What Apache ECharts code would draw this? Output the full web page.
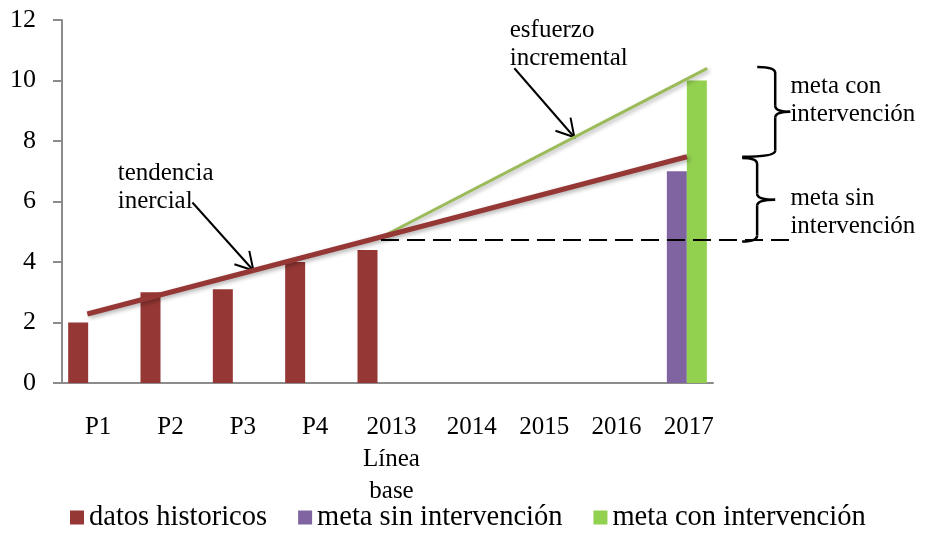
<!DOCTYPE html>
<html>
<head>
<meta charset="utf-8">
<script src="https://cdn.jsdelivr.net/npm/echarts@6/dist/echarts.min.js"></script>
<style>
  html, body { margin: 0; padding: 0; background: #fff; }
  #chart { width: 933px; height: 534px; }
</style>
</head>
<body>
<div id="chart"></div>
<script>
// categorias del eje x
const categories = ['P1', 'P2', 'P3', 'P4', '2013\nLínea\nbase', '2014', '2015', '2016', '2017']
const yTicks = [0, 2, 4, 6, 8, 10, 12]

// barras
const historicos = [2, 3, 3.1, 4, 4.4, '-', '-', '-', '-']
const metaSin = ['-', '-', '-', '-', '-', '-', '-', '-', 7]
const metaCon = ['-', '-', '-', '-', '-', '-', '-', '-', 10]

// lineas (x en posicion de categoria, 0..9)
const tendenciaInercial = [[0.35, 2.28], [8.64, 7.48]]
const esfuerzoIncremental = [[4.44, 4.85], [8.92, 10.4]]
const lineaBase = [[4.41, 4.73], [10.1, 4.73]]

const FONT = 'Liberation Serif'
const RED = '#953735'
const PURPLE = '#8064A2'
const GREEN = '#92D050'
const OLIVE = '#9BBB59'
const AXIS = '#8c8c8c'

const chart = echarts.init(document.getElementById('chart'))

const lineShadow = {
  shadowColor: 'rgba(0,0,0,0.3)',
  shadowBlur: 4,
  shadowOffsetX: 2,
  shadowOffsetY: 2,
}

chart.setOption({
  animation: false,
  textStyle: { fontFamily: FONT },
  grid: { left: 62, right: 220, top: 20, bottom: 151 },
  legend: {
    data: ['datos historicos', 'meta sin intervención', 'meta con intervención'],
    left: 65,
    top: 498,
    icon: 'rect',
    itemWidth: 14,
    itemHeight: 14,
    itemGap: 31,
    textStyle: { fontFamily: FONT, fontSize: 28.5, color: '#000' },
  },
  xAxis: [
    {
      type: 'category',
      data: categories,
      axisLine: { lineStyle: { color: AXIS, width: 2 } },
      axisTick: { length: 9, lineStyle: { color: AXIS, width: 2 } },
      axisLabel: {
        interval: 0,
        margin: 28,
        color: '#000',
        fontFamily: FONT,
        fontSize: 25,
        lineHeight: 32,
        formatter: (v) => {
          if (v.startsWith('P')) return v
          const k = v.startsWith('2013') ? 'b' : 'y'
          return v.split('\n').map((s) => '{' + k + '|' + s + '}').join('\n')
        },
        rich: {
          y: { padding: [0, 0, 0, 24], fontSize: 25, lineHeight: 32, fontFamily: FONT },
          b: { padding: [0, 0, 0, 8], fontSize: 25, lineHeight: 32, fontFamily: FONT },
        },
      },
    },
    { type: 'value', min: 0, max: 9, show: false },
  ],
  yAxis: {
    type: 'value',
    min: yTicks[0],
    max: yTicks[yTicks.length - 1],
    interval: 2,
    splitLine: { show: false },
    axisLine: { show: true, lineStyle: { color: AXIS, width: 2 } },
    axisTick: { show: true, length: 9, lineStyle: { color: AXIS, width: 2 } },
    axisLabel: { margin: 26, color: '#000', fontFamily: FONT, fontSize: 26 },
  },
  series: [
    { name: 'datos historicos', type: 'bar', data: historicos, barWidth: 20, barGap: '0%', itemStyle: { color: RED } },
    { name: 'meta sin intervención', type: 'bar', data: metaSin, barWidth: 20, barGap: '0%', itemStyle: { color: PURPLE } },
    { name: 'meta con intervención', type: 'bar', data: metaCon, barWidth: 20, barGap: '0%', itemStyle: { color: GREEN } },
    {
      name: 'esfuerzo incremental', type: 'line', xAxisIndex: 1, data: esfuerzoIncremental, symbol: 'none', clip: false,
      lineStyle: Object.assign({ color: OLIVE, width: 3 }, lineShadow),
    },
    {
      name: 'tendencia inercial', type: 'line', xAxisIndex: 1, data: tendenciaInercial, symbol: 'none', clip: false,
      lineStyle: Object.assign({ color: RED, width: 5 }, lineShadow),
    },
  ],
})

// anotaciones
const px = (p) => chart.convertToPixel({ xAxisIndex: 1, yAxisIndex: 0 }, p)
const along = (line, t) => {
  const a = px(line[0]), b = px(line[1])
  return [a[0] + (b[0] - a[0]) * t, a[1] + (b[1] - a[1]) * t]
}
const ink = { stroke: '#000', lineWidth: 2.5, fill: null }

// linea base discontinua (se sale del area del grafico)
function baseLine(pts) {
  const a = px(pts[0]), b = px(pts[1])
  return {
    type: 'line', z: 5,
    shape: { x1: a[0], y1: a[1], x2: b[0], y2: b[1] },
    style: { stroke: '#000', lineWidth: 2, lineDash: [18, 8] },
  }
}

function arrow(tip, dx, dy) {
  const ang = Math.atan2(dy, dx)
  const len = 20
  const h1 = [tip[0] - len * Math.cos(ang - Math.PI / 6), tip[1] - len * Math.sin(ang - Math.PI / 6)]
  const h2 = [tip[0] - len * Math.cos(ang + Math.PI / 6), tip[1] - len * Math.sin(ang + Math.PI / 6)]
  return [
    { type: 'line', shape: { x1: tip[0] - dx, y1: tip[1] - dy, x2: tip[0], y2: tip[1] }, style: { stroke: '#000', lineWidth: 2 } },
    { type: 'polyline', shape: { points: [h1, tip, h2] }, style: { stroke: '#000', lineWidth: 2, fill: null } },
  ]
}

// llave "}" entre dos valores
function brace(xSpine, yTop, yBot, wLeftTop, wLeftBot, wRight) {
  const s = px([xSpine, 0])[0]
  const y0 = px([0, yTop])[1]
  const y1 = px([0, yBot])[1]
  const ym = (y0 + y1) / 2
  const r = 6
  const q = (x1, y1_, cx, cy, x2, y2) => ({
    type: 'bezierCurve', shape: { x1: x1, y1: y1_, cpx1: cx, cpy1: cy, x2: x2, y2: y2 }, style: ink,
  })
  const l = (x1, y1_, x2, y2) => ({ type: 'line', shape: { x1: x1, y1: y1_, x2: x2, y2: y2 }, style: ink })
  return [
    q(s - wLeftTop, y0, s, y0, s, y0 + r),
    l(s, y0 + r, s, ym - r),
    q(s, ym - r, s, ym, s + wRight, ym),
    q(s + wRight, ym, s, ym, s, ym + r),
    l(s, ym + r, s, y1 - r),
    q(s, y1 - r, s, y1, s - wLeftBot, y1),
  ]
}

function label(p, text) {
  const q = px(p)
  return {
    type: 'text', x: q[0], y: q[1],
    style: { text: text, font: '25px "' + FONT + '"', fill: '#000', lineHeight: 28, verticalAlign: 'middle', align: 'left' },
  }
}

const tipInc = along(esfuerzoIncremental, 0.59)
const tipIne = along(tendenciaInercial, 0.277)

chart.setOption({
  graphic: [
    baseLine(lineaBase),
    label([6.19, 11.2], 'esfuerzo\nincremental'),
    label([0.77, 6.45], 'tendencia\ninercial'),
    label([10.07, 9.35], 'meta con\nintervención'),
    label([10.07, 5.65], 'meta sin\nintervención'),
    ...arrow(tipInc, 60, 69),
    ...arrow(tipIne, 61, 68),
    ...brace(9.86, 10.45, 7.48, 18, 33, 15),
    ...brace(9.61, 7.44, 4.68, 15, 15, 18),
  ],
})
</script>
</body>
</html>
